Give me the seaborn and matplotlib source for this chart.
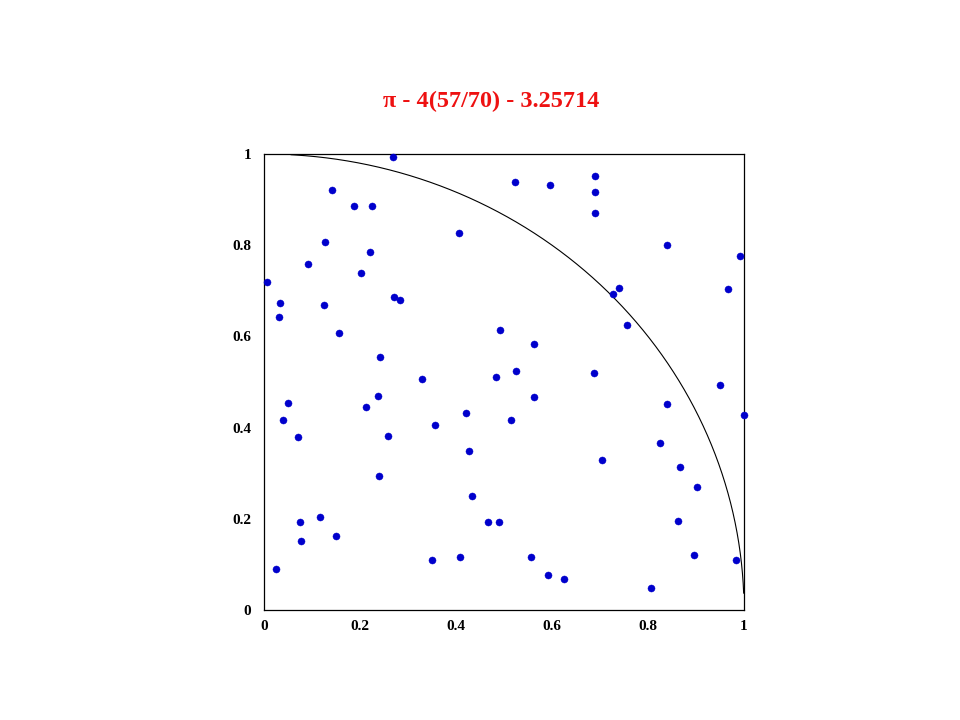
import numpy as np
import matplotlib
matplotlib.use("Agg")
import matplotlib.pyplot as plt
import pandas as pd
import seaborn as sns


# sample points (x, y in the unit square)
x_vals = [
    0.269, 0.142, 0.187, 0.226, 0.406, 0.128, 0.220, 0.092, 0.203, 0.007,
    0.034, 0.124, 0.270, 0.284, 0.032, 0.157, 0.242, 0.492, 0.484, 0.329,
    0.523, 0.595, 0.690, 0.690, 0.690, 0.840, 0.992, 0.740, 0.728, 0.967,
    0.756, 0.562, 0.526, 0.687, 0.950, 0.562, 0.840, 0.999, 0.515, 0.824,
    0.704, 0.867, 0.903, 0.490, 0.862, 0.557, 0.895, 0.984, 0.592, 0.624,
    0.807, 0.049, 0.040, 0.070, 0.212, 0.237, 0.357, 0.259, 0.421, 0.428,
    0.240, 0.434, 0.117, 0.076, 0.467, 0.078, 0.149, 0.024, 0.351, 0.408,
]
y_vals = [
    0.993, 0.922, 0.885, 0.887, 0.826, 0.808, 0.786, 0.759, 0.738, 0.719,
    0.674, 0.668, 0.686, 0.679, 0.643, 0.607, 0.554, 0.613, 0.512, 0.507,
    0.938, 0.931, 0.952, 0.917, 0.870, 0.800, 0.777, 0.707, 0.693, 0.704,
    0.626, 0.583, 0.525, 0.519, 0.493, 0.467, 0.451, 0.428, 0.416, 0.367,
    0.328, 0.314, 0.270, 0.192, 0.195, 0.116, 0.121, 0.109, 0.077, 0.068,
    0.048, 0.455, 0.416, 0.379, 0.446, 0.469, 0.405, 0.381, 0.433, 0.349,
    0.293, 0.250, 0.203, 0.192, 0.192, 0.151, 0.162, 0.089, 0.109, 0.116,
]
tick_vals = [0, 0.2, 0.4, 0.6, 0.8, 1]
tick_labels = ["0", "0.2", "0.4", "0.6", "0.8", "1"]
title_text = "\u03c0 - 4(57/70) - 3.25714"


def main() -> None:
    sns.set_style("white")
    plt.rcParams["font.family"] = ["Liberation Serif", "DejaVu Serif"]

    points = pd.DataFrame({"x": x_vals, "y": y_vals})

    fig = plt.figure(figsize=(9.6, 7.2), dpi=100)
    ax = fig.add_axes([0.275, 0.1528, 0.5, 0.6333])

    # quarter circle boundary
    theta = np.linspace(np.radians(2.1), np.radians(86.8), 200)
    ax.plot(np.cos(theta), np.sin(theta), color="black", linewidth=0.8)

    sns.scatterplot(
        data=points, x="x", y="y", ax=ax,
        color="#0000CC", s=26, edgecolor="#0000CC", linewidth=0.3,
        clip_on=False, zorder=3,
    )

    ax.set_xlim(0, 1)
    ax.set_ylim(0, 1)
    ax.set_xticks(tick_vals)
    ax.set_xticklabels(tick_labels)
    ax.set_yticks(tick_vals)
    ax.set_yticklabels(tick_labels)
    ax.tick_params(axis="x", length=0, pad=7, labelsize=11, labelcolor="black")
    ax.tick_params(axis="y", length=0, pad=9, labelsize=11, labelcolor="black")
    for label in ax.get_xticklabels() + ax.get_yticklabels():
        label.set_fontweight("bold")
    ax.set_xlabel("")
    ax.set_ylabel("")
    for spine in ax.spines.values():
        spine.set_visible(True)
        spine.set_color("black")
        spine.set_linewidth(0.9)

    fig.text(0.5115, 0.859, title_text, ha="center", va="center",
             color="#EE1111", fontsize=17.5, fontweight="bold")

    fig.savefig("out.png", dpi=100)
    plt.close(fig)


if __name__ == "__main__":
    main()
